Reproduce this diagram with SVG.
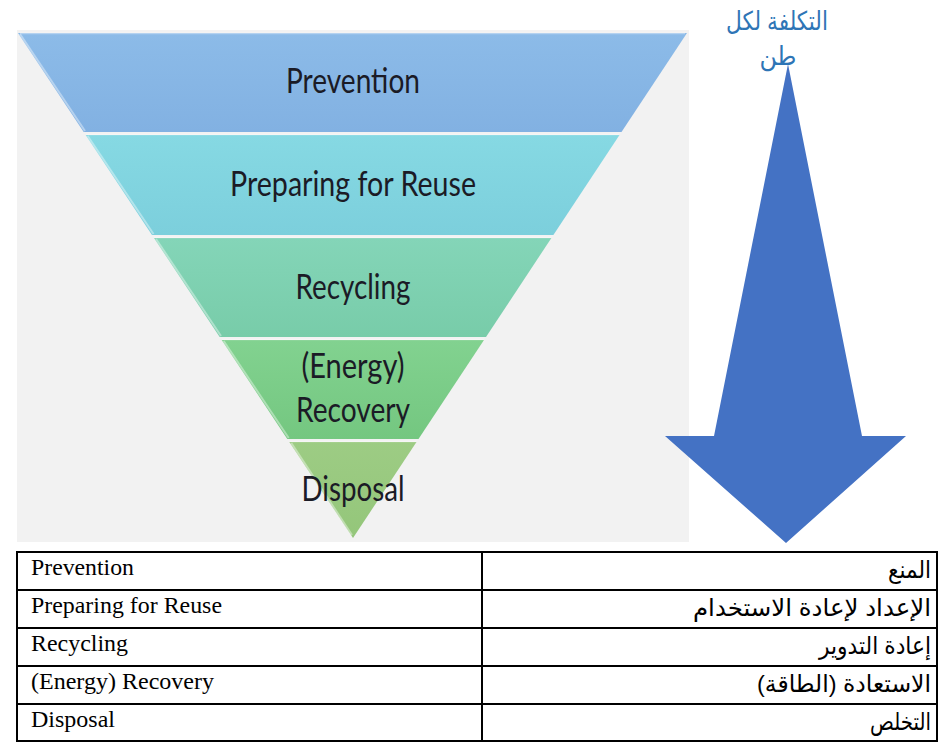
<svg xmlns="http://www.w3.org/2000/svg" width="950" height="742" viewBox="0 0 950 742">
  <defs>
    <style>
      .band-label { font-family: Lato, "Open Sans", "Liberation Sans", sans-serif; font-size: 35px; fill: #1b1b26; text-anchor: middle; }
      .en { font-family: "Liberation Serif", "Times New Roman", serif; font-size: 23px; fill: #000; }
      .ar { font-family: "Liberation Sans", "DejaVu Sans", "Noto Sans", sans-serif; font-size: 24px; fill: #000; }
      .title { font-family: "Liberation Sans", "DejaVu Sans", sans-serif; font-size: 26px; fill: #2e75b6; text-anchor: middle; }
      .grid { fill: none; stroke: #000; stroke-width: 2; }
      .edge { stroke: #ffffff; stroke-opacity: 0.4; stroke-width: 2; fill: none; }
      .sep { stroke: #ffffff; stroke-opacity: 0.35; stroke-width: 1.5; }
    </style>
    <linearGradient id="g1" x1="0" y1="0" x2="0" y2="1"><stop offset="0" stop-color="#8cbbe8"/><stop offset="1" stop-color="#82b1e2"/></linearGradient>
    <linearGradient id="g2" x1="0" y1="0" x2="0" y2="1"><stop offset="0" stop-color="#86d9e3"/><stop offset="1" stop-color="#7ccfdc"/></linearGradient>
    <linearGradient id="g3" x1="0" y1="0" x2="0" y2="1"><stop offset="0" stop-color="#84d5b8"/><stop offset="1" stop-color="#78cca9"/></linearGradient>
    <linearGradient id="g4" x1="0" y1="0" x2="0" y2="1"><stop offset="0" stop-color="#82d290"/><stop offset="1" stop-color="#74c780"/></linearGradient>
    <linearGradient id="g5" x1="0" y1="0" x2="0" y2="1"><stop offset="0" stop-color="#9dcc84"/><stop offset="1" stop-color="#94c67a"/></linearGradient>
  </defs>

  <rect width="950" height="742" fill="#ffffff"/>

  <!-- background panel of the pyramid image -->
  <rect id="panel" x="17" y="30" width="672" height="512" fill="#f2f2f2"/>

  <g id="band-prevention">
    <polygon points="18,33 687,33 621.5,132 83.7,132" fill="url(#g1)"/>
    <line class="edge" x1="20" y1="34" x2="85" y2="131"/>
    <line class="sep" x1="20" y1="33.5" x2="685" y2="33.5"/>
    <text class="band-label" x="353" y="93" textLength="134" lengthAdjust="spacingAndGlyphs">Prevention</text>
  </g>

  <g id="band-preparing">
    <polygon points="85.7,135 619.5,135 553.4,235 152,235" fill="url(#g2)"/>
    <line class="edge" x1="87.7" y1="136" x2="153.5" y2="234"/>
    <line class="sep" x1="86" y1="134.5" x2="619" y2="134.5"/>
    <text class="band-label" x="353" y="196" textLength="246" lengthAdjust="spacingAndGlyphs">Preparing for Reuse</text>
  </g>

  <g id="band-recycling">
    <polygon points="154,238 551.4,238 486,337 219.7,337" fill="url(#g3)"/>
    <line class="edge" x1="156" y1="239" x2="221" y2="336"/>
    <line class="sep" x1="154" y1="237.5" x2="551" y2="237.5"/>
    <text class="band-label" x="353" y="299" textLength="115" lengthAdjust="spacingAndGlyphs">Recycling</text>
  </g>

  <g id="band-energy">
    <polygon points="221.7,340 484,340 418.5,439 287.3,439" fill="url(#g4)"/>
    <line class="edge" x1="223.7" y1="341" x2="288.7" y2="438"/>
    <line class="sep" x1="222" y1="339.5" x2="484" y2="339.5"/>
    <text class="band-label" x="353" y="378" textLength="103" lengthAdjust="spacingAndGlyphs">(Energy)</text>
    <text class="band-label" x="353" y="422" textLength="114" lengthAdjust="spacingAndGlyphs">Recovery</text>
  </g>

  <g id="band-disposal">
    <polygon points="289.3,442 416.5,442 353,538" fill="url(#g5)"/>
    <line class="edge" x1="291.3" y1="443" x2="352" y2="535"/>
    <line class="sep" x1="290" y1="441.5" x2="416" y2="441.5"/>
    <text class="band-label" x="353" y="501" textLength="103" lengthAdjust="spacingAndGlyphs">Disposal</text>
  </g>

  <g id="cost-title">
    <text class="title" x="777" y="30" textLength="102" lengthAdjust="spacingAndGlyphs">التكلفة لكل</text>
    <text class="title" x="778" y="65" textLength="37" lengthAdjust="spacingAndGlyphs">طن</text>
  </g>

  <g id="connectors">
    <polygon id="cost-arrow" points="788,64 862,436 906,436 786,543 665,436 714,436" fill="#4472c4"/>
  </g>

  <g id="table">
    <rect class="grid" x="17" y="552" width="920" height="189"/>
    <line class="grid" x1="482" y1="552" x2="482" y2="741"/>
    <line class="grid" x1="17" y1="590" x2="937" y2="590"/>
    <line class="grid" x1="17" y1="628" x2="937" y2="628"/>
    <line class="grid" x1="17" y1="666" x2="937" y2="666"/>
    <line class="grid" x1="17" y1="704" x2="937" y2="704"/>

    <g id="row-prevention">
      <text class="en" x="31" y="575" textLength="103" lengthAdjust="spacingAndGlyphs">Prevention</text>
      <text class="ar" x="931" y="578" direction="rtl" text-anchor="start" textLength="43" lengthAdjust="spacingAndGlyphs">المنع</text>
    </g>
    <g id="row-preparing">
      <text class="en" x="31" y="613" textLength="191" lengthAdjust="spacingAndGlyphs">Preparing for Reuse</text>
      <text class="ar" x="931" y="616" direction="rtl" text-anchor="start" textLength="238" lengthAdjust="spacingAndGlyphs">الإعداد لإعادة الاستخدام</text>
    </g>
    <g id="row-recycling">
      <text class="en" x="31" y="651" textLength="97" lengthAdjust="spacingAndGlyphs">Recycling</text>
      <text class="ar" x="931" y="654" direction="rtl" text-anchor="start" textLength="112" lengthAdjust="spacingAndGlyphs">إعادة التدوير</text>
    </g>
    <g id="row-energy">
      <text class="en" x="31" y="689" textLength="183" lengthAdjust="spacingAndGlyphs">(Energy) Recovery</text>
      <text class="ar" x="931" y="692" direction="rtl" text-anchor="start" textLength="174" lengthAdjust="spacingAndGlyphs">الاستعادة (الطاقة)</text>
    </g>
    <g id="row-disposal">
      <text class="en" x="31" y="727" textLength="84" lengthAdjust="spacingAndGlyphs">Disposal</text>
      <text class="ar" x="931" y="730" direction="rtl" text-anchor="start" textLength="61" lengthAdjust="spacingAndGlyphs">التخلص</text>
    </g>
  </g>
</svg>
